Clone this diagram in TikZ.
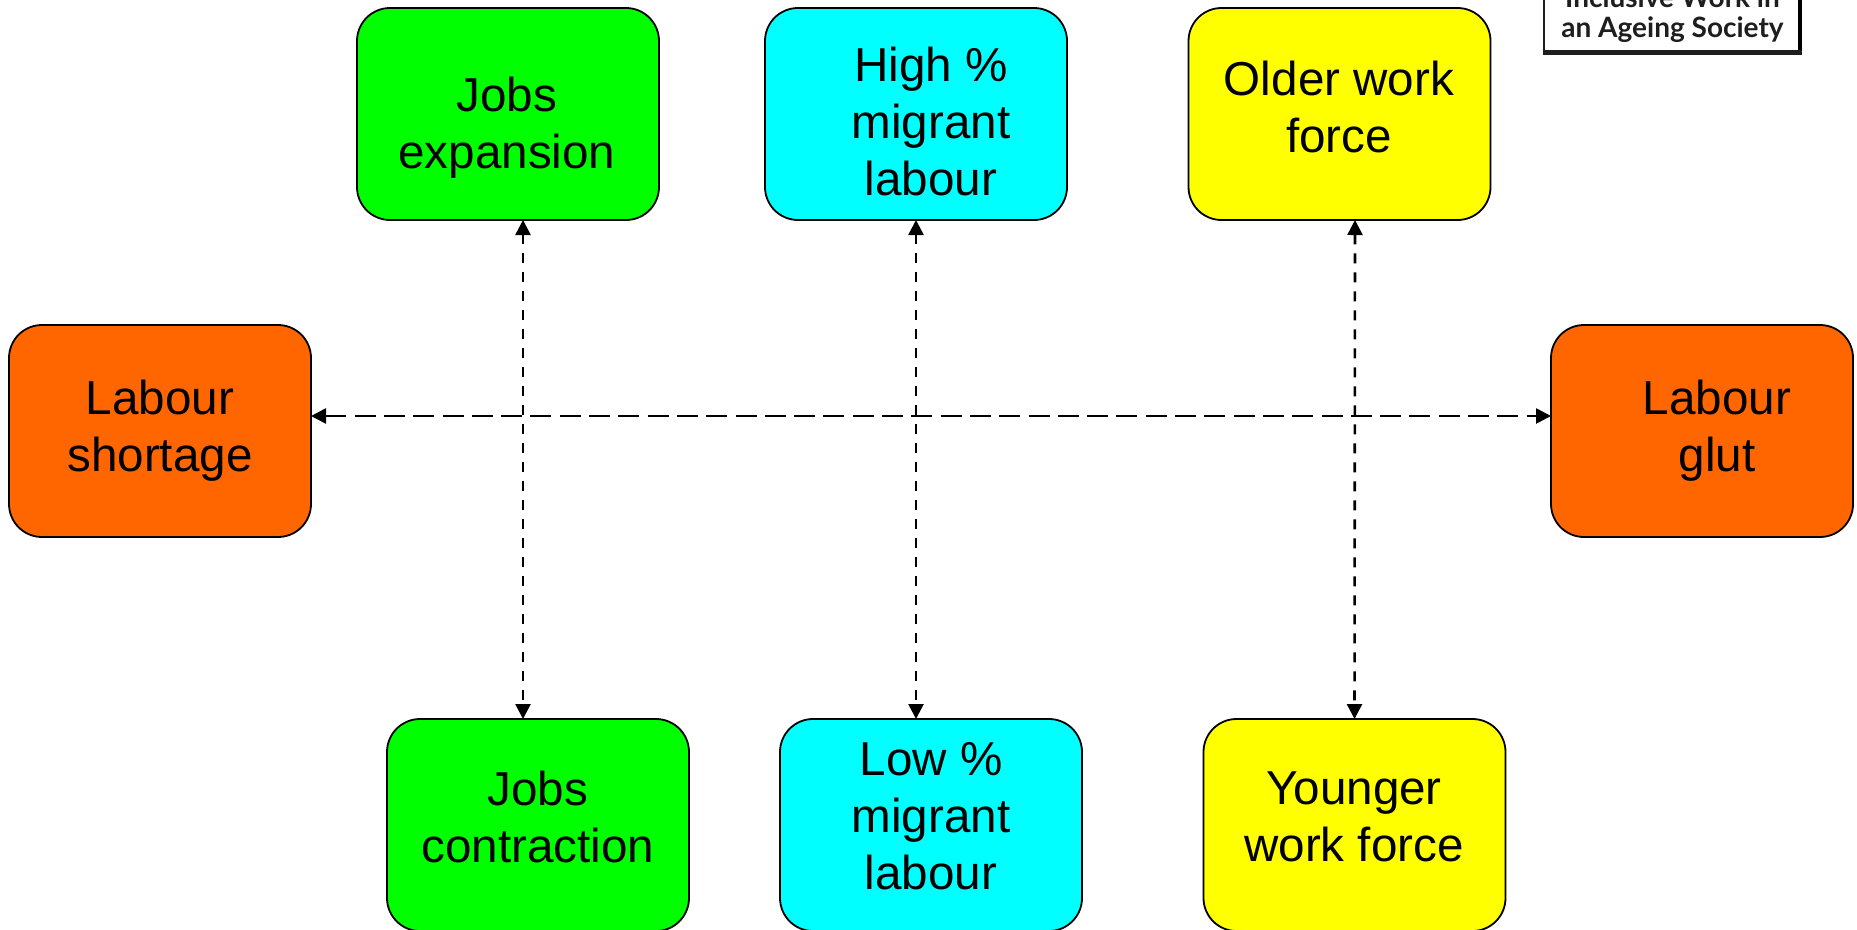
\documentclass[tikz,border=0pt]{standalone}
\usepackage{fontspec}
\setmainfont{Liberation Sans}
\newfontfamily\logofont{Lato}[Scale=1]
\usetikzlibrary{arrows.meta}
\definecolor{cgreen}{RGB}{0,255,0}
\definecolor{ccyan}{RGB}{0,255,255}
\definecolor{cyel}{RGB}{255,255,0}
\definecolor{corange}{RGB}{255,102,0}
\definecolor{logoink}{RGB}{30,30,30}
\tikzset{
  boxnode/.style={draw=black,line width=1.8pt,rounded corners=33pt,minimum width=302pt,minimum height=212pt,inner sep=0pt,outer sep=0pt},
  lab/.style={align=center,inner sep=0pt,font=\fontsize{47.6}{57}\selectfont,text=black},
  link/.style={line width=2.6pt,{Triangle[length=15pt,width=15pt]}-{Triangle[length=15pt,width=15pt]}},
  vdash/.style={dash pattern=on 10pt off 9pt},
  hdash/.style={dash pattern=on 21pt off 8.3pt},
  logolab/.style={inner sep=0pt,anchor=base,font=\logofont\bfseries\fontsize{28}{34}\selectfont,text=logoink}
}
\begin{document}
\begin{tikzpicture}[x=1pt,y=-1pt]
\useasboundingbox (0,0) rectangle (1857,929);
\clip (0,0) rectangle (1857,929);
% boxes
\node[boxnode,fill=cgreen] (je) at (508,114) {};
\node[boxnode,fill=ccyan] (hm) at (916,114) {};
\node[boxnode,fill=cyel] (ow) at (1339.5,114) {};
\node[boxnode,fill=corange] (ls) at (160,431) {};
\node[boxnode,fill=corange] (lg) at (1702,431) {};
\node[boxnode,fill=cgreen] (jc) at (538,825) {};
\node[boxnode,fill=ccyan] (lm) at (931,825) {};
\node[boxnode,fill=cyel] (yw) at (1354.5,825) {};
% labels
\node[lab] (tje) at (507,128) {Jobs\\expansion};
\node[lab] (thm) at (931,121) {High \%\\migrant\\labour};
\node[lab] (tow) at (1339,107) {Older work\\force};
\node[lab] (tls) at (160,431) {Labour\\shortage};
\node[lab] (tlg) at (1717,431) {Labour\\glut};
\node[lab] (tjc) at (538,817) {Jobs\\contraction};
\node[lab] (tlm) at (931,816) {Low \%\\migrant\\labour};
\node[lab] (tyw) at (1354,817) {Younger\\work force};
% connectors
\draw[link,vdash] ([xshift=15pt]je.south) -- ([xshift=-15pt]jc.north);
\draw[link,vdash] (hm.south) -- ([xshift=-15pt]lm.north);
\draw[link,vdash] ([xshift=15.5pt]ow.south) -- (yw.north);
\draw[link,hdash] ([yshift=15pt]ls.east) -- ([yshift=15pt]lg.west);
% logo
\fill[white] (1544,-2) rectangle (1800,52);
\fill[logoink] (1543,-2) rectangle (1545,55);
\fill[black] (1798,-2) rectangle (1802,55);
\fill[logoink] (1543,50) rectangle (1802,55);
\node[logolab] (logo1) at (1672.5,7) {Inclusive Work in};
\node[logolab] (logo2) at (1672.5,37) {an Ageing Society};
\end{tikzpicture}
\end{document}
